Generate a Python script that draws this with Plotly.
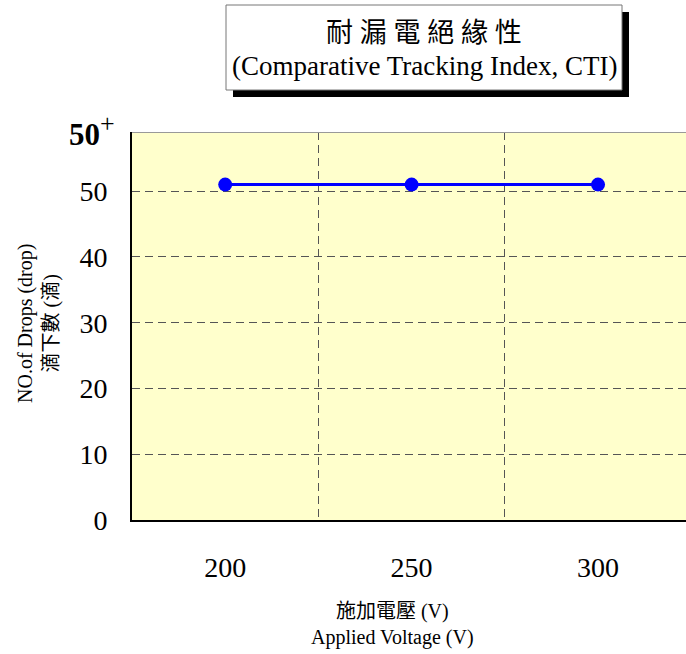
import plotly.graph_objects as go

# Applied voltage categories and number of drops withstood
voltages = ["200", "250", "300"]
drops = [51, 51, 51]
y_ticks = [0, 10, 20, 30, 40, 50]

x_pos = list(range(len(voltages)))
serif = "Liberation Serif, Times New Roman, serif"
cjk = "Liberation Serif, Noto Sans CJK TC, serif"

fig = go.Figure()
fig.add_trace(go.Scatter(
    x=x_pos, y=drops, mode="lines+markers",
    line=dict(color="#0000FF", width=3),
    marker=dict(color="#0000FF", size=14),
    showlegend=False, hoverinfo="skip",
))

y_top = 59

fig.update_layout(
    width=686, height=654,
    margin=dict(l=132, r=0, t=132, b=134),
    paper_bgcolor="white",
    plot_bgcolor="#FFFFCC",
    xaxis=dict(
        range=[-0.5, 2.472],
        tickmode="array", tickvals=x_pos, ticktext=voltages,
        showgrid=False, zeroline=False,
        showline=True, linecolor="black", linewidth=2,
        ticks="", ticklabelstandoff=21,
        tickfont=dict(family=serif, size=28, color="black"),
        minor=dict(tickmode="array", tickvals=[0.5, 1.5], showgrid=True,
                   gridcolor="#555555", gridwidth=1, griddash="8px,5px", ticks=""),
    ),
    yaxis=dict(
        range=[0, y_top],
        tickmode="array", tickvals=y_ticks,
        showgrid=True, gridcolor="#555555", gridwidth=1, griddash="8px,5px",
        zeroline=False,
        showline=True, linecolor="black", linewidth=2,
        ticks="", ticklabelstandoff=17,
        tickfont=dict(family=serif, size=28, color="black"),
    ),
)


def px_x(px):
    return (px - 132) / 554


def px_y(py):
    return (520 - py) / 388


# top border of the plotting area
fig.add_shape(type="line", xref="paper", yref="y", x0=0, x1=1, y0=y_top, y1=y_top,
              line=dict(color="#999999", width=2))

# title box with drop shadow
fig.add_shape(type="rect", xref="paper", yref="paper",
              x0=px_x(233), x1=px_x(629), y0=px_y(97), y1=px_y(12),
              line=dict(width=0), fillcolor="black")
fig.add_shape(type="rect", xref="paper", yref="paper",
              x0=px_x(226), x1=px_x(622), y0=px_y(90), y1=px_y(5),
              line=dict(color="#777777", width=1), fillcolor="white")

title_cx = px_x(424)
fig.add_annotation(xref="paper", yref="paper", x=title_cx, y=px_y(33),
                   xanchor="center", yanchor="middle",
                   text="耐 漏 電 絕 緣 性", showarrow=False,
                   font=dict(family=cjk, size=27, color="black"))
fig.add_annotation(xref="paper", yref="paper", x=title_cx, y=px_y(66),
                   xanchor="center", yanchor="middle",
                   text="(Comparative Tracking Index, CTI)", showarrow=False,
                   font=dict(family=serif, size=27, color="black"))

# open-ended top value marker
fig.add_annotation(xref="paper", yref="paper", x=px_x(117), y=px_y(130),
                   xanchor="right", yanchor="middle",
                   text="<b>50</b><sup><span style=\"font-size:26px\">+</span></sup>",
                   showarrow=False,
                   font=dict(family=serif, size=31, color="black"))

# axis titles
fig.add_annotation(xref="paper", yref="paper", x=px_x(38), y=px_y(324),
                   xanchor="center", yanchor="middle",
                   text="NO.of Drops (drop)<br>滴下數 (滴)", textangle=-90,
                   showarrow=False, font=dict(family=cjk, size=20, color="black"))
fig.add_annotation(xref="paper", yref="paper", x=px_x(392), y=px_y(624),
                   xanchor="center", yanchor="middle",
                   text="施加電壓 (V)<br>Applied Voltage (V)",
                   showarrow=False, font=dict(family=cjk, size=20, color="black"))

fig.write_html("out.html")
